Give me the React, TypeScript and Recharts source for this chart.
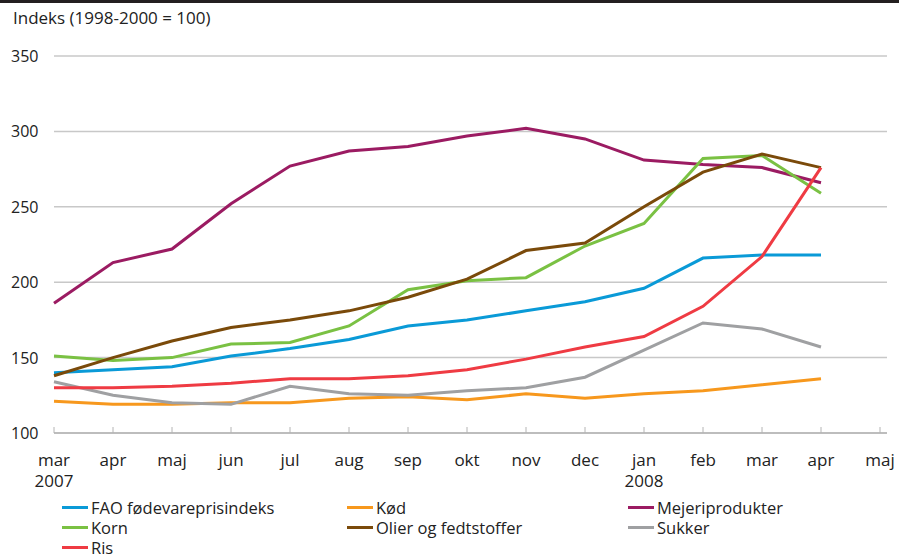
import { LineChart, Line, XAxis, YAxis, CartesianGrid } from "recharts"

// månedsakse: mar 2007 – maj 2008
const months = ["mar", "apr", "maj", "jun", "jul", "aug", "sep", "okt", "nov", "dec", "jan", "feb", "mar", "apr", "maj"]
const years: Record<number, string> = { 0: "2007", 10: "2008" }
const yTicks = [100, 150, 200, 250, 300, 350]

// indeks (1998-2000 = 100), mar 2007 – apr 2008
const fao = [140, 142, 144, 151, 156, 162, 171, 175, 181, 187, 196, 216, 218, 218]
const kod = [121, 119, 119, 120, 120, 123, 124, 122, 126, 123, 126, 128, 132, 136]
const mejeri = [186, 213, 222, 252, 277, 287, 290, 297, 302, 295, 281, 278, 276, 266]
const korn = [151, 148, 150, 159, 160, 171, 195, 201, 203, 224, 239, 282, 284, 259]
const olier = [138, 150, 161, 170, 175, 181, 190, 202, 221, 226, 250, 273, 285, 276]
const sukker = [134, 125, 120, 119, 131, 126, 125, 128, 130, 137, 155, 173, 169, 157]
const ris = [130, 130, 131, 133, 136, 136, 138, 142, 149, 157, 164, 184, 217, 276]

const series = [
  { key: "fao", name: "FAO fødevareprisindeks", color: "#0a9ad7", values: fao },
  { key: "kod", name: "Kød", color: "#f7981d", values: kod },
  { key: "mejeri", name: "Mejeriprodukter", color: "#9b1b62", values: mejeri },
  { key: "korn", name: "Korn", color: "#7ac143", values: korn },
  { key: "olier", name: "Olier og fedtstoffer", color: "#7a4a0a", values: olier },
  { key: "sukker", name: "Sukker", color: "#9fa0a2", values: sukker },
  { key: "ris", name: "Ris", color: "#ef3b43", values: ris },
]

const data = months.map((m, i) => {
  const row: Record<string, any> = { idx: i, month: m }
  series.forEach(s => {
    row[s.key] = i < s.values.length ? s.values[i] : null
  })
  return row
})

const font = "'Open Sans', sans-serif"

function MonthTick({ x, y, payload }: any) {
  const i = payload.value as number
  return (
    <g>
      <line x1={x} x2={x} y1={y - 6} y2={y} stroke="#b4b4b4" strokeWidth={1} />
      <text x={x} y={y + 33} textAnchor="middle" fontSize={17} fill="#222" fontFamily={font}>
        {months[i]}
      </text>
      {years[i] && (
        <text x={x} y={y + 54} textAnchor="middle" fontSize={17} fill="#222" fontFamily={font}>
          {years[i]}
        </text>
      )}
    </g>
  )
}

function ValueTick({ y, payload }: any) {
  return (
    <text x={11} y={y} dy={6} textAnchor="start" fontSize={16} fill="#222" fontFamily={font}>
      {payload.value}
    </text>
  )
}

export default function App() {
  return (
    <div style={{ position: "absolute", left: 0, top: 0, width: 899, height: 557, background: "#fff", fontFamily: font, overflow: "hidden" }}>
      <div style={{ position: "absolute", left: 0, top: 0, width: 899, height: 3, background: "#231f20" }} />
      <div style={{ position: "absolute", left: 13, top: 8, fontSize: 17, lineHeight: "20px", color: "#222" }}>
        Indeks (1998-2000 = 100)
      </div>
      <LineChart width={899} height={557} data={data} margin={{ top: 56, right: 12, bottom: 0, left: 0 }}>
        <CartesianGrid vertical={false} stroke="#c8c8c8" strokeWidth={1.5} />
        <XAxis
          dataKey="idx"
          type="category"
          height={124}
          padding={{ left: 0, right: 7 }}
          tickLine={false}
          tickSize={0}
          tickMargin={0}
          axisLine={{ stroke: "#b4b4b4", strokeWidth: 1.5 }}
          tick={<MonthTick />}
          interval={0}
        />
        <YAxis
          width={54}
          domain={[100, 350]}
          ticks={yTicks}
          axisLine={false}
          tickLine={false}
          tick={<ValueTick />}
        />
        {series.map(s => (
          <Line
            key={s.key}
            dataKey={s.key}
            name={s.name}
            stroke={s.color}
            strokeWidth={3}
            dot={false}
            type="linear"
            isAnimationActive={false}
          />
        ))}
      </LineChart>
      {series.map((s, i) => (
        <div
          key={s.key}
          style={{
            position: "absolute",
            left: [62, 347, 628][i % 3],
            top: 498 + Math.floor(i / 3) * 20,
            height: 19,
            lineHeight: "19px",
            display: "flex",
            alignItems: "center",
            fontSize: 16.5,
            color: "#222",
            whiteSpace: "nowrap",
          }}
        >
          <span style={{ display: "inline-block", width: 26, height: 3.5, background: s.color, marginRight: 3 }} />
          {s.name}
        </div>
      ))}
    </div>
  )
}
